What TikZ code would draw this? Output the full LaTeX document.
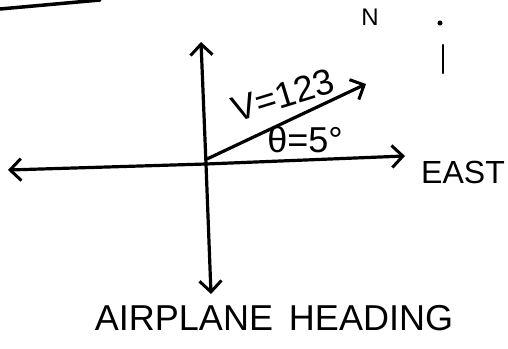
\documentclass[tikz,border=0pt]{standalone}
\usepackage{fontspec}
\setmainfont{Liberation Sans}
\usetikzlibrary{arrows.meta}
\begin{document}
\begin{tikzpicture}[x=1pt,y=-1pt,
  ink/.style={line width=3.2pt,line cap=round,black},
  axis/.style={ink,-{Straight Barb[length=11pt,width=22pt,line width=3pt]}},
  hand/.style={inner sep=0pt,font=\fontsize{#1}{#1}\selectfont}]
\useasboundingbox (0,0) rectangle (508,348);
% axes
\coordinate (o) at (206,164);
\coordinate (n) at (201,42);
\coordinate (s) at (211,294);
\coordinate (w) at (8,170);
\coordinate (e) at (405,156);
\coordinate (v0) at (207,159);
\coordinate (v1) at (366,84);
\draw[axis] (o) -- (n);
\draw[axis] (o) -- (s);
\draw[axis] (o) -- (w);
\draw[axis] (o) -- (e);
\draw[axis] (v0) -- (v1);
% stray stroke top left
\coordinate (t0) at (0,9);
\coordinate (t1) at (100,0);
\draw[ink,line width=3.5pt] (t0) -- (t1);
% north mark
\coordinate (m0) at (443,45);
\coordinate (m1) at (443,73);
\draw[ink,line width=2.4pt] (m0) -- (m1);
\node[circle,fill=black,inner sep=1.8pt] (dot) at (440,23) {};
% labels
\node[hand=36,rotate=17] (vlab) at (283,95) {V=123};
\node[hand=36] (theta) at (305,140) {θ=5°};
\node[hand=32] (east) at (463,172) {EAST};
\node[hand=24] (north) at (370,17) {N};
\node[hand=36] (head) at (274,318) {AIRPLANE\hspace{16pt}HEADING};
\end{tikzpicture}
\end{document}
